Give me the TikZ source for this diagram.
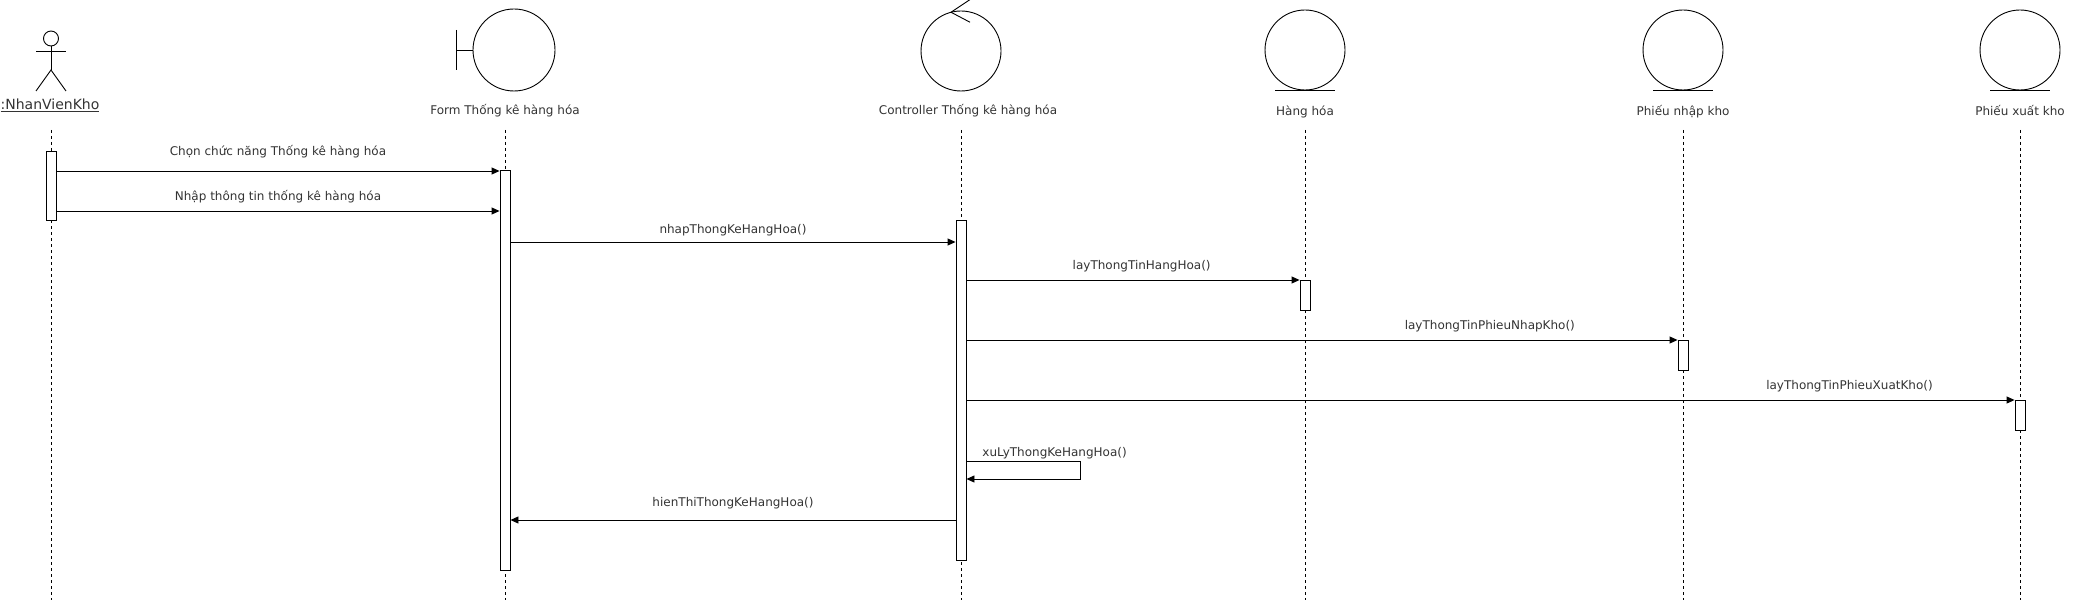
\documentclass[tikz,border=0pt]{standalone}
\usepackage{fontspec}
\setmainfont{DejaVu Sans}
\usetikzlibrary{positioning, arrows.meta}

\tikzset{
  lifeline/.style={dash pattern=on 3pt off 3pt, line width=0.8pt},
  actbox/.style={draw, fill=white, minimum width=10pt, inner sep=0pt},
  msg/.style={-{Triangle[length=8pt, width=7pt]}},
  lbl/.style={inner sep=0pt, text height=9pt, text depth=3pt, text=black!80, font=\fontsize{12}{14}\selectfont},
  entity/.style={draw, circle, minimum size=80pt, inner sep=0pt},
}

\begin{document}
\begin{tikzpicture}[x=1pt, y=-1pt, line width=0.9pt]
    \useasboundingbox (0,0) rectangle (2076,604);

    % lifelines
    \foreach \name/\x in {nv/51, form/505, ctrl/961, hh/1305, pn/1683, px/2020}{
        \coordinate (\name Top) at (\x,130);
        \coordinate (\name Bot) at (\x,600);
        \draw[lifeline] (\name Top) -- (\name Bot);
    }

    % actor
    \node[draw, circle, minimum size=15pt, inner sep=0pt] (head) at (51,38.5) {};
    \draw (head.south) -- (51,70) coordinate (hip);
    \draw (36,51) -- (66,51);
    \draw (36,91) -- (hip) -- (66,91);
    \node[lbl, text height=11pt, font=\fontsize{14}{16}\selectfont] (nvName) at (50,106) {\underline{:NhanVienKho}};

    % boundary
    \node[entity, minimum size=82pt] (formShape) at (514,50) {};
    \draw (456,30) -- (456,70);
    \draw (456,50) -- (formShape.west);
    \node[lbl] (formName) at (505,112) {Form Thống kê hàng hóa};

    % controller
    \node[entity] (ctrlShape) at (961,51) {};
    \draw ([xshift=9pt, yshift=11pt]ctrlShape.north) -- ([xshift=-10pt, yshift=-1.7pt]ctrlShape.north) -- ([xshift=9pt, yshift=-11.7pt]ctrlShape.north);
    \node[lbl] (ctrlName) at (968,112) {Controller Thống kê hàng hóa};

    % entities
    \node[entity] (hhShape) at (1305,50) {};
    \node[entity] (pnShape) at (1683,50) {};
    \node[entity] (pxShape) at (2020,50) {};
    \foreach \s in {hhShape, pnShape, pxShape}
        \draw ([xshift=-30pt]\s.south) -- ([xshift=30pt]\s.south);
    \node[lbl, below=16pt of hhShape] (hhName) {Hàng hóa};
    \node[lbl, below=16pt of pnShape] (pnName) {Phiếu nhập kho};
    \node[lbl, below=16pt of pxShape] (pxName) {Phiếu xuất kho};

    % activations
    \node[actbox, minimum height=69pt] (actA) at (nvTop |- 0,185.5) {};
    \node[actbox, minimum height=400pt] (actF) at (formTop |- 0,370) {};
    \node[actbox, minimum height=340pt] (actC) at (ctrlTop |- 0,390) {};
    \node[actbox, minimum height=30pt] (actH) at (hhTop |- 0,295) {};
    \node[actbox, minimum height=30pt] (actN) at (pnTop |- 0,355) {};
    \node[actbox, minimum height=30pt] (actX) at (pxTop |- 0,415) {};

    % messages
    \draw[msg] (actA.east |- 0,171) -- (actF.west |- 0,171) node[lbl, midway, above=12pt] {Chọn chức năng Thống kê hàng hóa};
    \draw[msg] (actA.east |- 0,211) -- (actF.west |- 0,211) node[lbl, midway, above=7pt] {Nhập thông tin thống kê hàng hóa};
    \draw[msg] (actF.east |- 0,242) -- (actC.west |- 0,242) node[lbl, midway, above=5pt] {nhapThongKeHangHoa()};
    \draw[msg] (actC.east |- 0,280) -- (actH.west |- 0,280) node[lbl, pos=0.526, above=7pt] {layThongTinHangHoa()};
    \draw[msg] (actC.east |- 0,340) -- (actN.west |- 0,340) node[lbl, pos=0.736, above=7pt] {layThongTinPhieuNhapKho()};
    \draw[msg] (actC.east |- 0,400) -- (actX.west |- 0,400) node[lbl, pos=0.8425, above=7pt] {layThongTinPhieuXuatKho()};

    \coordinate (selfR) at (1080,461);
    \draw[msg] (actC.east |- selfR) -- (selfR) -- (selfR |- 0,479) -- (actC.east |- 0,479);
    \node[lbl, anchor=base west] (selfName) at (982,456) {xuLyThongKeHangHoa()};

    \draw[msg] (actC.west |- 0,520) -- (actF.east |- 0,520) node[lbl, midway, above=10pt] {hienThiThongKeHangHoa()};
\end{tikzpicture}
\end{document}
